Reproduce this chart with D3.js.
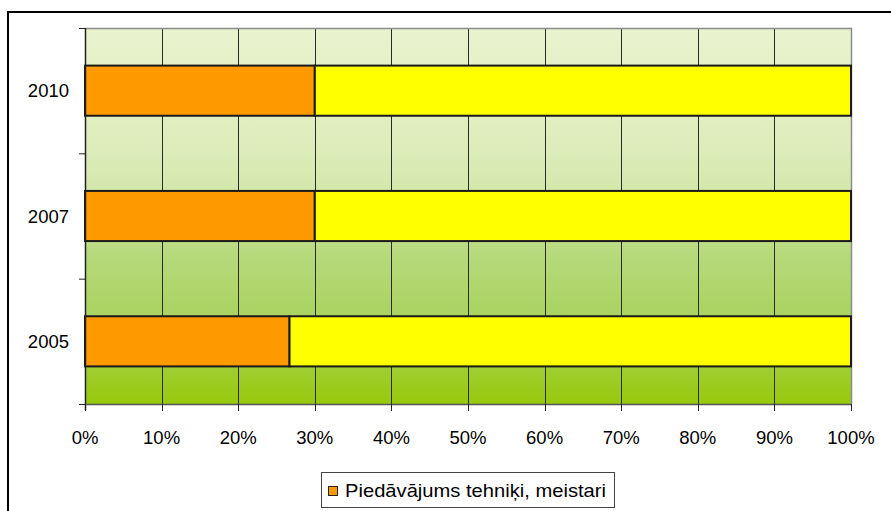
<!DOCTYPE html>
<html>
<head>
<meta charset="utf-8">
<script src="https://cdn.jsdelivr.net/npm/d3@7/dist/d3.min.js"></script>
<style>
  html, body { margin: 0; padding: 0; background: #fff; }
  svg { display: block; font-family: "Liberation Sans", Arial, sans-serif; }
</style>
</head>
<body>
<svg id="chart" width="891" height="511"></svg>
<script>
// Years shown on the category axis (bottom to top: 2005, 2007, 2010)
const years = ["2010", "2007", "2005"];
// Share of supply: technicians, masters (%)
const supplyShare = [30, 30, 26.7];
// Remaining share up to 100%
const otherShare = [70, 70, 73.3];
// Percentage axis ticks
const xTicks = [0, 10, 20, 30, 40, 50, 60, 70, 80, 90, 100];
const legendLabel = "Piedāvājums tehniķi, meistari";

const svg = d3.select("#chart");
const plot = { left: 85, top: 28, right: 851, bottom: 404 };
const fontSize = 18.5;

// Outer chart frame (only left and top edges fall inside the page)
svg.append("path")
  .attr("d", `M8,511 L8,12 L891,12`)
  .attr("fill", "none").attr("stroke", "#000").attr("stroke-width", 2);

const x = d3.scaleLinear().domain([0, 100]).range([plot.left, plot.right]);
const y = d3.scaleBand().domain(years).range([plot.top, plot.bottom]).paddingInner(0.6).paddingOuter(0.3);
const yBands = d3.scaleBand().domain(years).range([plot.top, plot.bottom]);

// Plot area background gradient
const defs = svg.append("defs");
const grad = defs.append("linearGradient").attr("id", "bg").attr("x1", 0).attr("y1", 0).attr("x2", 0).attr("y2", 1);
[[0, "#e9f3ce"], [0.3, "#dfedbd"], [0.5, "#cfe4a2"], [0.6, "#b6d97c"], [0.8, "#a8d25a"], [1, "#98c90c"]]
  .forEach(([o, c]) => grad.append("stop").attr("offset", o).attr("stop-color", c));

svg.append("rect")
  .attr("x", plot.left).attr("y", plot.top)
  .attr("width", plot.right - plot.left).attr("height", plot.bottom - plot.top)
  .attr("fill", "url(#bg)");

// Vertical gridlines
svg.append("g").selectAll("line").data(xTicks.slice(1, -1)).join("line")
  .attr("x1", d => Math.round(x(d)) + 0.5).attr("x2", d => Math.round(x(d)) + 0.5)
  .attr("y1", plot.top).attr("y2", plot.bottom)
  .attr("stroke", "#2a2a2a").attr("stroke-width", 1);

// Plot area border (top, right)
svg.append("path")
  .attr("d", `M${plot.left},${plot.top + 0.5} L${plot.right + 0.5},${plot.top + 0.5} L${plot.right + 0.5},${plot.bottom}`)
  .attr("fill", "none").attr("stroke", "#8c8c8c").attr("stroke-width", 1.5);

// Stacked bars
const rows = years.map((yr, i) => ({ yr, a: supplyShare[i], b: otherShare[i] }));
const bars = svg.append("g");
bars.selectAll("rect.a").data(rows).join("rect").attr("class", "a")
  .attr("x", x(0)).attr("y", d => y(d.yr))
  .attr("width", d => x(d.a) - x(0)).attr("height", y.bandwidth())
  .attr("fill", "#ff9900").attr("stroke", "#1a1a1a").attr("stroke-width", 2);
bars.selectAll("rect.b").data(rows).join("rect").attr("class", "b")
  .attr("x", d => x(d.a)).attr("y", d => y(d.yr))
  .attr("width", d => x(d.a + d.b) - x(d.a)).attr("height", y.bandwidth())
  .attr("fill", "#ffff00").attr("stroke", "#1a1a1a").attr("stroke-width", 2);

// Category axis
const yAxis = svg.append("g").attr("transform", `translate(${plot.left},0)`);
yAxis.append("line").attr("x1", 0.5).attr("x2", 0.5).attr("y1", plot.top).attr("y2", plot.bottom + 6)
  .attr("stroke", "#222").attr("stroke-width", 1.5);
const bandEdges = years.map(d => yBands(d)).concat([plot.bottom]);
yAxis.selectAll("line.tick").data(bandEdges).join("line").attr("class", "tick")
  .attr("x1", -6).attr("x2", 0).attr("y1", d => d + 0.5).attr("y2", d => d + 0.5)
  .attr("stroke", "#222").attr("stroke-width", 1);
yAxis.selectAll("text").data(years).join("text")
  .attr("x", -16).attr("y", d => yBands(d) + yBands.bandwidth() / 2)
  .attr("text-anchor", "end").attr("dominant-baseline", "central")
  .attr("font-size", fontSize).attr("fill", "#000").text(d => d);

// Percentage axis
const xAxis = svg.append("g");
xAxis.append("line").attr("x1", plot.left).attr("x2", plot.right + 1).attr("y1", plot.bottom + 0.5).attr("y2", plot.bottom + 0.5)
  .attr("stroke", "#555").attr("stroke-width", 1.5);
xAxis.selectAll("line.tick").data(xTicks).join("line").attr("class", "tick")
  .attr("x1", d => Math.round(x(d)) + 0.5).attr("x2", d => Math.round(x(d)) + 0.5)
  .attr("y1", plot.bottom).attr("y2", plot.bottom + 7)
  .attr("stroke", "#222").attr("stroke-width", 1);
xAxis.selectAll("text").data(xTicks).join("text")
  .attr("x", d => x(d)).attr("y", 444)
  .attr("text-anchor", "middle").attr("font-size", fontSize).attr("fill", "#000")
  .text(d => d + "%");

// Legend
const lg = svg.append("g");
lg.append("rect").attr("x", 321.5).attr("y", 472.5).attr("width", 293).attr("height", 35)
  .attr("fill", "#fff").attr("stroke", "#444").attr("stroke-width", 1);
lg.append("rect").attr("x", 328.5).attr("y", 486.5).attr("width", 9).attr("height", 9)
  .attr("fill", "#ff9900").attr("stroke", "#222").attr("stroke-width", 1);
lg.append("text").attr("x", 345).attr("y", 497).attr("font-size", 19).attr("fill", "#000")
  .attr("textLength", 261).attr("lengthAdjust", "spacingAndGlyphs").text(legendLabel);
</script>
</body>
</html>
